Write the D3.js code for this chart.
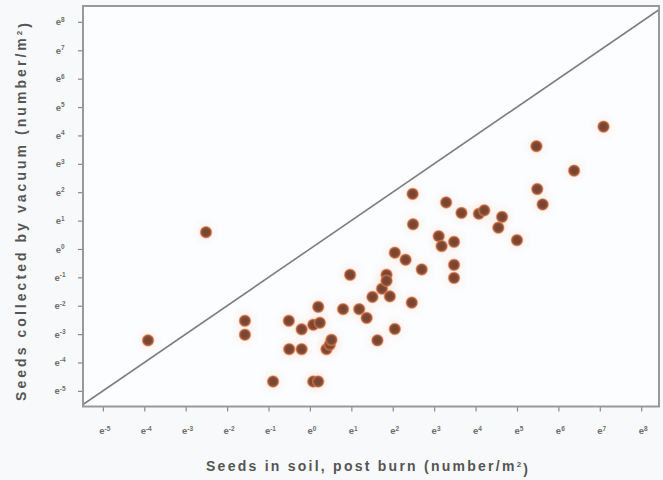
<!DOCTYPE html>
<html>
<head>
<meta charset="utf-8">
<script src="https://cdn.jsdelivr.net/npm/d3@7"></script>
<style>
  body { margin: 0; background: #f8f9fb; }
  svg { display: block; font-family: "Liberation Sans", Arial, sans-serif; }
</style>
</head>
<body>
<svg id="chart"></svg>
<script>
// values are natural-log exponents (e^k)
var soilLn = [-2.51, -3.91, -1.57, -1.57, -0.51, -0.50, -0.89, -0.20, -0.20, 0.08,
              0.24, 0.20, 0.08, 0.20, 0.40, 0.48, 0.52, 0.80, 0.97, 1.19,
              1.37, 1.51, 1.74, 1.93, 1.85, 1.85, 1.63, 2.05, 2.31, 2.70,
              2.46, 2.05, 2.48, 2.49, 3.29, 3.66, 4.08, 4.21, 4.64, 4.55,
              5.00, 3.11, 3.18, 3.48, 3.48, 3.48, 5.47, 5.49, 5.62, 6.38,
              7.09];
var vacuumLn = [0.59, -3.22, -2.53, -3.02, -2.53, -3.53, -4.67, -3.53, -2.83, -2.67,
                -2.60, -2.04, -4.67, -4.67, -3.53, -3.37, -3.20, -2.12, -0.91, -2.12,
                -2.43, -1.69, -1.40, -1.67, -0.91, -1.12, -3.22, -0.13, -0.38, -0.72,
                -1.89, -2.82, 1.94, 0.87, 1.64, 1.27, 1.24, 1.36, 1.13, 0.75,
                0.31, 0.45, 0.10, 0.25, -0.56, -1.02, 3.62, 2.11, 1.57, 2.76,
                4.31];
var tickExp = d3.range(-5, 9); // e^-5 ... e^8

var margin = {top: 6, right: 4, bottom: 73.5, left: 83},
    width = 663 - margin.left - margin.right,
    height = 480 - margin.top - margin.bottom;

var svg = d3.select('#chart')
    .attr('width', 663)
    .attr('height', 480);

var defs = svg.append('defs');
var grad = defs.append('radialGradient').attr('id', 'dot');
grad.append('stop').attr('offset', '0%').attr('stop-color', '#714535');
grad.append('stop').attr('offset', '55%').attr('stop-color', '#7f4732');
grad.append('stop').attr('offset', '78%').attr('stop-color', '#b35e3a');
grad.append('stop').attr('offset', '100%').attr('stop-color', '#eb9a72').attr('stop-opacity', 0.35);

var halo = defs.append('radialGradient').attr('id', 'halo');
halo.append('stop').attr('offset', '0%').attr('stop-color', '#f7c3a4').attr('stop-opacity', 0.3);
halo.append('stop').attr('offset', '100%').attr('stop-color', '#fbe3d5').attr('stop-opacity', 0);

defs.append('clipPath').attr('id', 'clip')
  .append('rect').attr('width', width).attr('height', height);

var g = svg.append('g')
    .attr('transform', 'translate(' + margin.left + ',' + margin.top + ')');

var x = d3.scaleLinear().domain([-5.48, 8.43]).range([0, width]);
var y = d3.scaleLinear().domain([-5.55, 8.56]).range([height, 0]);

g.append('rect')
    .attr('width', width)
    .attr('height', height)
    .attr('fill', '#fcfdff');

// 1:1 line
var lo = Math.max(x.domain()[0], y.domain()[0]),
    hi = Math.min(x.domain()[1], y.domain()[1]);
g.append('line')
    .attr('clip-path', 'url(#clip)')
    .attr('x1', x(lo)).attr('y1', y(lo))
    .attr('x2', x(hi)).attr('y2', y(hi))
    .attr('stroke', '#7d7d7d')
    .attr('stroke-width', 1.6);

var pts = soilLn.map(function(d, i) { return {s: d, v: vacuumLn[i]}; });

g.append('g').selectAll('circle')
  .data(pts)
  .enter().append('circle')
    .attr('cx', d => x(d.s))
    .attr('cy', d => y(d.v))
    .attr('r', 15)
    .attr('fill', 'url(#halo)');

g.append('g').selectAll('circle')
  .data(pts)
  .enter().append('circle')
    .attr('cx', d => x(d.s))
    .attr('cy', d => y(d.v))
    .attr('r', 6.5)
    .attr('fill', 'url(#dot)');

// axes
function expLabel(sel) {
  sel.selectAll('text').each(function(k) {
    var t = d3.select(this).text('');
    t.append('tspan').text('e');
    t.append('tspan')
      .attr('dy', '-0.55em')
      .attr('font-size', '6.5px')
      .text(k);
  });
}

var xAxis = g.append('g')
    .attr('transform', 'translate(0,' + height + ')')
    .call(d3.axisBottom(x).tickValues(tickExp).tickSize(5).tickPadding(16));
var yAxis = g.append('g')
    .call(d3.axisLeft(y).tickValues(tickExp).tickSize(5).tickPadding(16));

[xAxis, yAxis].forEach(function(a) {
  a.select('.domain').remove();
  a.selectAll('.tick line').attr('stroke', '#8a8a8a').attr('stroke-width', 1.2);
  a.selectAll('text')
    .attr('fill', '#6e6e6e')
    .attr('font-size', '9.5px')
    .attr('font-weight', 'bold');
  a.call(expLabel);
});
yAxis.selectAll('text').attr('text-anchor', 'middle').attr('dx', '-0.2em');
xAxis.selectAll('text').attr('dx', '0.15em');

// frame
g.append('rect')
    .attr('width', width)
    .attr('height', height)
    .attr('fill', 'none')
    .attr('stroke', '#999')
    .attr('stroke-width', 2);

// titles
var xt = svg.append('text')
    .attr('x', margin.left + width / 2 - 4)
    .attr('y', 471)
    .attr('text-anchor', 'middle')
    .attr('font-size', '14px')
    .attr('font-weight', 'bold')
    .attr('fill', '#555')
    .attr('textLength', 322)
    .attr('lengthAdjust', 'spacing');
xt.append('tspan').text('Seeds in soil, post burn (number/m');
xt.append('tspan').attr('dy', '-0.5em').attr('font-size', '8px').text('2');
xt.append('tspan').attr('dy', '0.5em').text(')');

var yt = svg.append('text')
    .attr('transform', 'translate(26,' + 212 + ') rotate(-90)')
    .attr('text-anchor', 'middle')
    .attr('font-size', '14px')
    .attr('font-weight', 'bold')
    .attr('fill', '#555')
    .attr('textLength', 378)
    .attr('lengthAdjust', 'spacing');
yt.append('tspan').text('Seeds collected by vacuum (number/m');
yt.append('tspan').attr('dy', '-0.5em').attr('font-size', '8px').text('2');
yt.append('tspan').attr('dy', '0.5em').text(')');
</script>
</body>
</html>
